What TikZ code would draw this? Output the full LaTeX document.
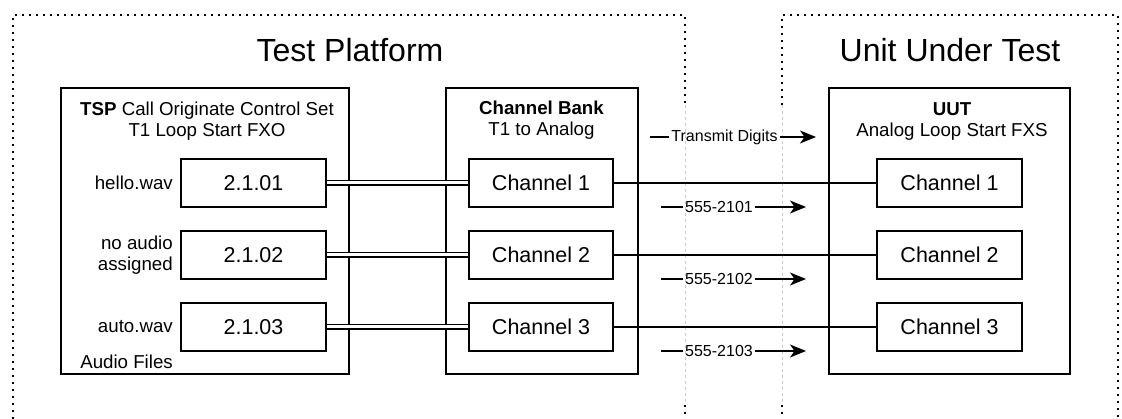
\documentclass[tikz,border=0pt]{standalone}
\usepackage{fontspec}
\setmainfont{Liberation Sans}
\usetikzlibrary{arrows.meta}

\begin{document}
\begin{tikzpicture}[x=1pt, y=-1pt,
    frame/.style={line width=1.6pt, dash pattern=on 1.6pt off 5.4pt},
    fade/.style={gray!40, line width=0.6pt, dash pattern=on 3pt off 3pt},
    unit/.style={draw, line width=1.4pt, inner sep=0pt},
    chan/.style={draw, line width=1.4pt, minimum width=145pt, minimum height=48pt, font=\fontsize{21.5}{24}\selectfont},
    title/.style={font=\fontsize{32}{36}\selectfont},
    small/.style={font=\fontsize{18.7}{21}\selectfont, inner sep=2pt},
    tiny/.style={font=\fontsize{16}{18}\selectfont, inner sep=2pt},
    trunk/.style={line width=1.5pt, double, double distance=3pt},
    line/.style={line width=1.4pt},
    call/.style={line width=1.4pt, -{Stealth[length=16pt, width=13pt, inset=4.5pt]}}
]
                \useasboundingbox (0,0) rectangle (1122,419);

                % the two areas
                \draw[frame] (13,419) -- (13,15) -- (685,15) -- (685,105);
                \draw[fade] (685,105) -- (685,405);
                \draw[frame] (685,405) -- (685,419);
                \draw[frame] (782,105) -- (782,15) -- (1118,15) -- (1118,419);
                \draw[fade] (782,105) -- (782,405);
                \draw[frame] (782,405) -- (782,419);

                \node[title] (platform) at (350,50) {Test Platform};
                \node[title] (uuttitle) at (950,50) {Unit Under Test};

                % the three units
                \node[unit, minimum width=288pt, minimum height=286pt] (tsp) at (205,231) {};
                \node[unit, minimum width=192pt, minimum height=286pt] (bank) at (542,231) {};
                \node[unit, minimum width=241pt, minimum height=286pt] (uut) at (949.5,231) {};

                \node[small, align=center] (tsphead) at (207,121) {\textbf{TSP} Call Originate Control Set\\T1 Loop Start FXO};
                \node[small, align=center] (bankhead) at (541.5,120) {\textbf{Channel Bank}\\T1 to Analog};
                \node[small, align=center] (uuthead) at (952,122) {\textbf{UUT}\\Analog Loop Start FXS};

                % channels and calls
                \foreach \i/\y in {1/183, 2/255, 3/327} {
                    \node[chan] (f\i) at (253.5,\y) {2.1.0\i};
                    \node[chan, minimum width=144pt] (c\i) at (541,\y) {Channel \i};
                    \node[chan] (u\i) at (949.5,\y) {Channel \i};
                    \draw[trunk] (f\i) -- (c\i);
                    \draw[line] (c\i) -- (u\i);
                    \node[tiny] (n\i) at (719,\y+24) {555-210\i};
                    \coordinate (s\i) at (661,\y+24);
                    \coordinate (e\i) at (806,\y+24);
                    \draw[line] (s\i) -- (n\i);
                    \draw[call] (n\i) -- (e\i);
                }

                \node[small, anchor=east] (wav1) at (175,183) {hello.wav};
                \node[small, anchor=east, align=right] (wav2) at (175,255) {no audio\\assigned};
                \node[small, anchor=east] (wav3) at (175,327) {auto.wav};
                \node[small, anchor=east] (files) at (175,362) {Audio Files};

                \node[tiny] (digits) at (724.5,137) {Transmit Digits};
                \coordinate (dstart) at (650,137);
                \coordinate (dend) at (816,137);
                \draw[line] (dstart) -- (digits);
                \draw[call] (digits) -- (dend);

                \end{tikzpicture}
\end{document}
